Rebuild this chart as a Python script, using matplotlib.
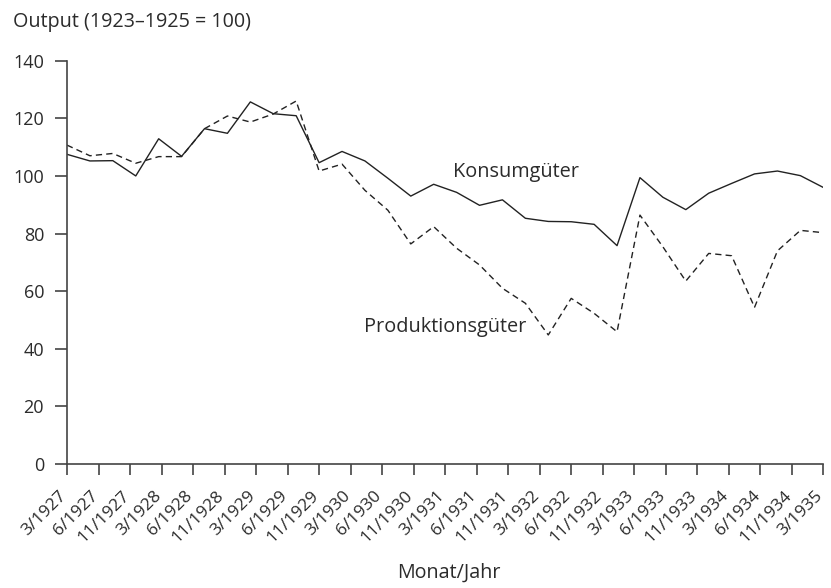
import numpy as np
import matplotlib
matplotlib.use("Agg")
import matplotlib.pyplot as plt
from matplotlib.transforms import ScaledTranslation

plt.rcParams['font.family'] = ['Open Sans', 'DejaVu Sans']

# tick labels (month/year), equally spaced along the axis
tick_labels = ["3/1927", "6/1927", "11/1927", "3/1928", "6/1928", "11/1928",
               "3/1929", "6/1929", "11/1929", "3/1930", "6/1930", "11/1930",
               "3/1931", "6/1931", "11/1931", "3/1932", "6/1932", "11/1932",
               "3/1933", "6/1933", "11/1933", "3/1934", "6/1934", "11/1934",
               "3/1935"]

konsum = [107.5, 105.2, 105.3, 100.0, 112.9, 106.8, 116.4, 114.8, 125.7, 121.6,
          120.9, 104.6, 108.5, 105.2, 99.2, 93.0, 97.1, 94.3, 89.8, 91.7,
          85.3, 84.2, 84.1, 83.2, 75.8, 99.4, 92.6, 88.3, 94.0, 97.4,
          100.7, 101.7, 100.1, 96.0]
produktion = [110.7, 107.0, 107.8, 104.4, 106.7, 106.7, 116.4, 120.8, 118.7, 121.5,
              126.0, 101.7, 104.1, 95.0, 88.1, 76.4, 82.4, 74.9, 69.1, 61.0,
              55.8, 44.8, 57.5, 52.3, 45.9, 86.4, 75.4, 63.5, 73.1, 72.3,
              54.4, 74.0, 81.1, 80.3]

x = np.arange(len(konsum))
ink = "#222222"
txt = "#2b2b2b"

fig = plt.figure(figsize=(8.31, 5.88), dpi=100)
ax = fig.add_axes([67 / 831, 1 - 464 / 588, (823.3 - 67) / 831, (464 - 60.7) / 588])

ax.plot(x, konsum, color=ink, lw=1.0)
ax.plot(x, produktion, color=ink, lw=1.0, dashes=(4.5, 3))

ax.set_xlim(0, len(konsum) - 1)
ax.set_ylim(0, 140)
ax.set_xticks(np.linspace(0, len(konsum) - 1, len(tick_labels)))
ax.set_xticklabels(tick_labels, rotation=45, ha="right", va="baseline",
                   rotation_mode="anchor", fontsize=12.5, color=txt)
shift = ScaledTranslation(3 / 100, 0, fig.dpi_scale_trans)
for lab in ax.get_xticklabels():
    lab.set_transform(lab.get_transform() + shift)
ax.set_yticks(range(0, 141, 20))
ax.tick_params(axis="y", labelsize=13, labelcolor=txt, length=9, width=1.2, color="#444444", pad=7.5)
ax.tick_params(axis="x", length=8, width=1.2, color="#444444", pad=15)

for s in ["top", "right"]:
    ax.spines[s].set_visible(False)
for s in ["left", "bottom"]:
    ax.spines[s].set_color("#444444")
    ax.spines[s].set_linewidth(1.2)

ax.text(16.83, 99.7, "Konsumgüter", fontsize=14.3, color=txt, ha="left", va="baseline")
ax.text(12.94, 45.9, "Produktionsgüter", fontsize=14.3, color=txt, ha="left", va="baseline")

fig.text(13 / 831, 1 - 21.7 / 588, "Output (1923–1925 = 100)", fontsize=14.2, color=txt,
         ha="left", va="center")
fig.text(449 / 831, 1 - 573 / 588, "Monat/Jahr", fontsize=14.2, color=txt,
         ha="center", va="center")

fig.savefig("out.png", dpi=100)
